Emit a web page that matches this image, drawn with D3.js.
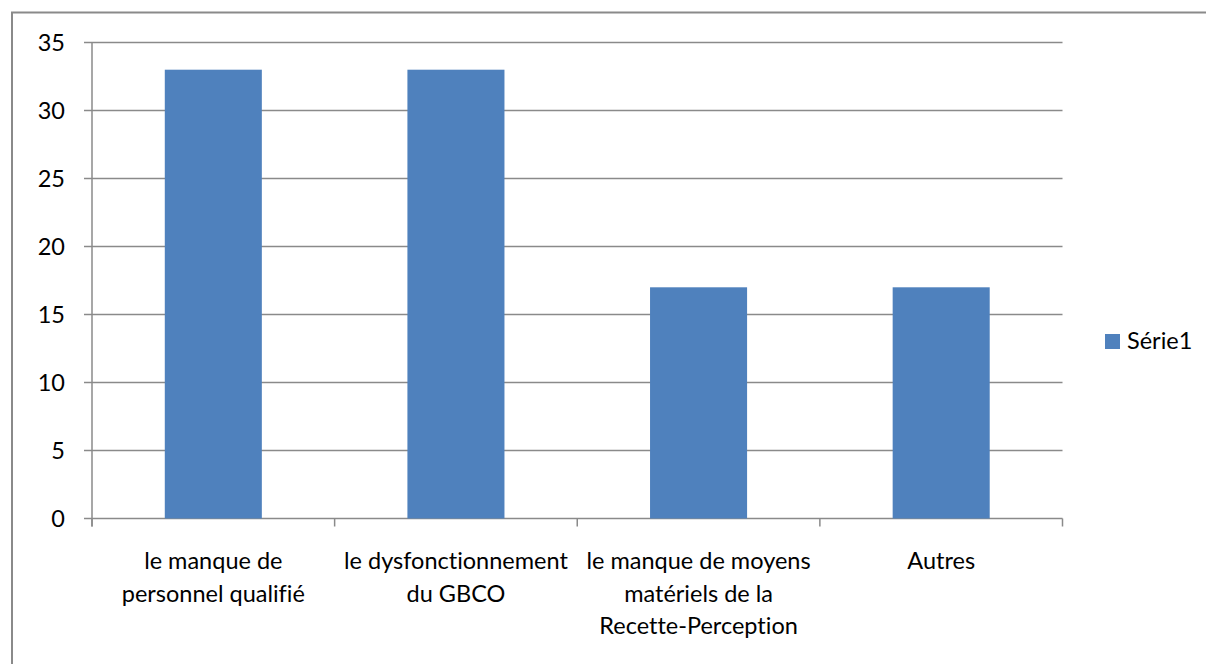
<!DOCTYPE html>
<html>
<head>
<meta charset="utf-8">
<script src="https://cdn.jsdelivr.net/npm/d3@7"></script>
<style>
  body { margin: 0; background: #fff; }
  svg { display: block; }
  text { font-variant-ligatures: none; font-feature-settings: "liga" 0; }
</style>
</head>
<body>
<div id="chart"></div>
<script>
const categories = [
  ["le manque de", "personnel qualifié"],
  ["le dysfonctionnement", "du GBCO"],
  ["le manque de moyens", "matériels de la", "Recette-Perception"],
  ["Autres"]
];
const values = [33, 33, 17, 17];
const yTicks = [0, 5, 10, 15, 20, 25, 30, 35];
const seriesName = "Série1";

const W = 1206, H = 664;
const margin = { top: 42.5, left: 92, right: 1206 - 1062.5, bottom: 664 - 518.5 };
const width = W - margin.left - margin.right;
const height = H - margin.top - margin.bottom;
const font = "Lato, 'Open Sans', sans-serif";
const fontSize = "23.5px";
const gridColor = "#8a8a8a";

const svg = d3.select("#chart").append("svg")
  .attr("width", W)
  .attr("height", H);

// outer chart border (only top and left sides fall inside the picture)
svg.append("rect")
  .attr("x", 12)
  .attr("y", 12.5)
  .attr("width", W + 20)
  .attr("height", H + 20)
  .attr("fill", "none")
  .attr("stroke", gridColor)
  .attr("stroke-width", 2);

const g = svg.append("g")
  .attr("transform", `translate(${margin.left},${margin.top})`);

const x = d3.scaleBand()
  .domain(d3.range(categories.length))
  .range([0, width])
  .paddingInner(0.6)
  .paddingOuter(0.3);

const y = d3.scaleLinear()
  .domain([0, 35])
  .range([height, 0]);

// gridlines
g.append("g")
  .selectAll("line")
  .data(yTicks)
  .enter()
  .append("line")
  .attr("x1", -8)
  .attr("x2", width)
  .attr("y1", d => y(d))
  .attr("y2", d => y(d))
  .attr("stroke", gridColor)
  .attr("stroke-width", 1.5);

// y axis line
g.append("line")
  .attr("x1", 0).attr("x2", 0)
  .attr("y1", 0).attr("y2", height + 8)
  .attr("stroke", gridColor)
  .attr("stroke-width", 1.5);

// category tick marks
const step = width / categories.length;
g.append("g")
  .selectAll("line")
  .data(d3.range(categories.length + 1))
  .enter()
  .append("line")
  .attr("x1", d => d * step)
  .attr("x2", d => d * step)
  .attr("y1", height)
  .attr("y2", height + 8)
  .attr("stroke", gridColor)
  .attr("stroke-width", 1.5);

// y tick labels
g.append("g")
  .selectAll("text")
  .data(yTicks)
  .enter()
  .append("text")
  .attr("x", -27)
  .attr("y", d => y(d))
  .attr("dy", "0.35em")
  .attr("text-anchor", "end")
  .style("font-family", font)
  .style("font-size", fontSize)
  .style("fill", "#000")
  .text(d => d);

// bars
g.append("g")
  .selectAll("rect")
  .data(values)
  .enter()
  .append("rect")
  .attr("x", (d, i) => x(i))
  .attr("y", d => y(d))
  .attr("width", x.bandwidth())
  .attr("height", d => height - y(d))
  .attr("fill", "#4f81bd");

// category labels
const labels = g.append("g")
  .selectAll("text")
  .data(categories)
  .enter()
  .append("text")
  .attr("text-anchor", "middle")
  .attr("x", (d, i) => x(i) + x.bandwidth() / 2)
  .attr("y", height + 50.5)
  .style("font-family", font)
  .style("font-size", fontSize)
  .style("fill", "#000");

labels.selectAll("tspan")
  .data(d => d)
  .enter()
  .append("tspan")
  .attr("x", function () { return d3.select(this.parentNode).attr("x"); })
  .attr("dy", (d, i) => i === 0 ? 0 : 32.5)
  .text(d => d);

// legend
const legend = svg.append("g")
  .attr("transform", "translate(1105,334)");

legend.append("rect")
  .attr("width", 15)
  .attr("height", 15)
  .attr("fill", "#4f81bd");

legend.append("text")
  .attr("x", 22)
  .attr("y", 15)
  .style("font-family", font)
  .style("font-size", fontSize)
  .style("fill", "#000")
  .text(seriesName);
</script>
</body>
</html>
